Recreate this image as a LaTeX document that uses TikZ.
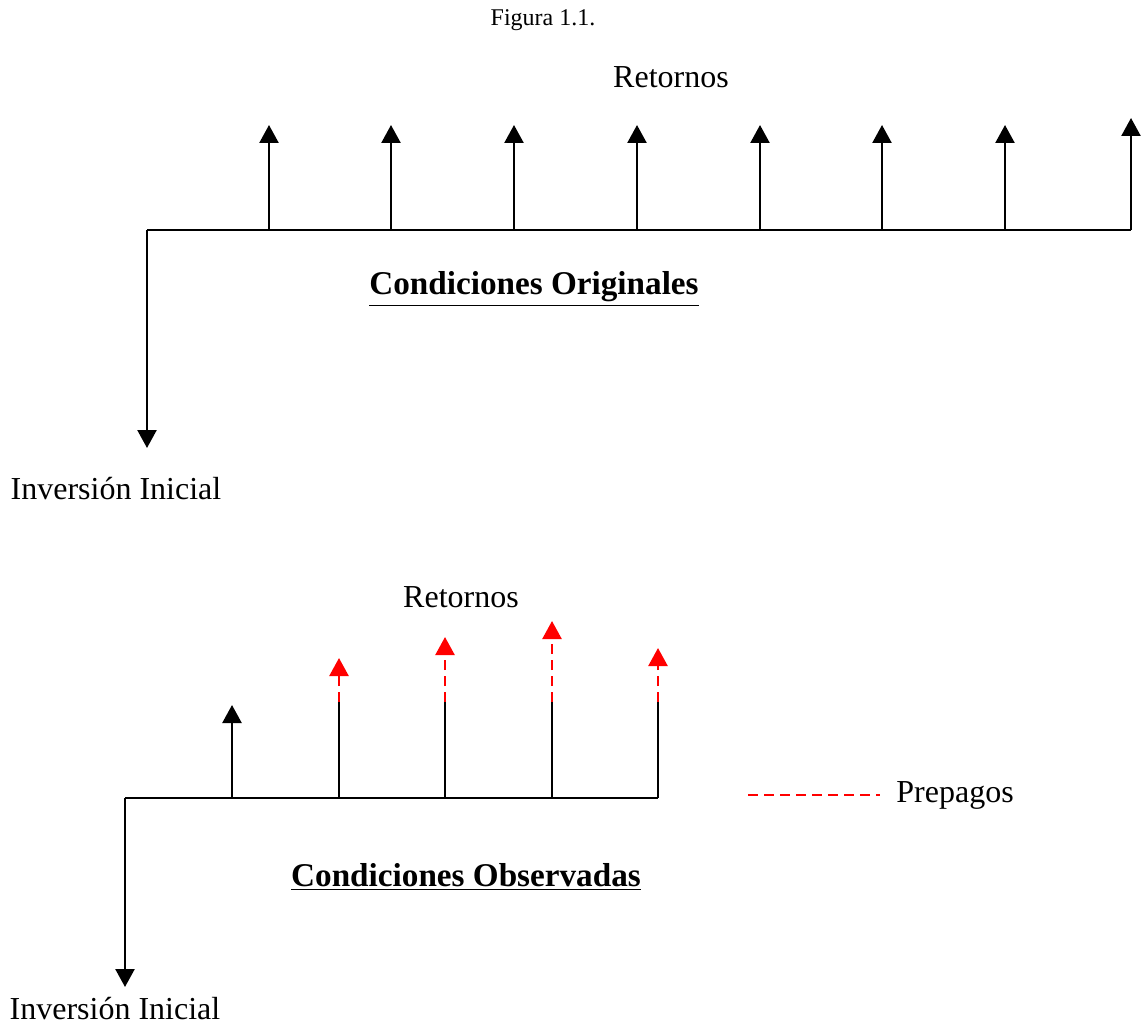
\documentclass[tikz,border=0pt]{standalone}
\usepackage{fontspec}
\setmainfont{Liberation Serif}
\usepackage{tikz}
\usetikzlibrary{arrows.meta}
\definecolor{prepago}{rgb}{1,0,0}
\tikzset{
	flujo/.style={black, line width=1.2pt, -{Triangle[width=9.5pt,length=9pt]}},
	eje/.style={black, line width=1.2pt},
	rojo/.style={prepago, line width=1.2pt, dash pattern=on 5pt off 3pt},
	etiqueta/.style={font=\fontsize{16}{19}\selectfont, inner sep=0pt}
}

\begin{document}
\begin{tikzpicture}[x=0.5pt,y=-0.5pt]
	\useasboundingbox (0,0) rectangle (1144,1026);
	\node[font=\fontsize{12}{14}\selectfont] (fig) at (543,20) {Figura 1.1.};

	% condiciones originales
	\coordinate (o0) at (147,230);
	\coordinate (oF) at (1131,230);
	\coordinate (oB) at (147,448);
	\draw[eje] (oB |- o0) -- (oF);
	\draw[flujo] (o0) -- (oB);
	\foreach \x/\t in {269/125,391/125,514/125,637/125,760/125,882/125,1005/125,1131/118}
		\draw[flujo] (\x,230) -- (\x,\t);
	\node[etiqueta] (ret1) at (671,77) {Retornos};
	\node[etiqueta, font=\fontsize{16.6}{19}\selectfont] (co) at (534,289) {\underline{\textbf{Condiciones Originales}}};
	\node[etiqueta] (inv1) at (116,489) {Inversión Inicial};

	% condiciones observadas
	\coordinate (b0) at (125,798);
	\coordinate (bF) at (658,798);
	\coordinate (bB) at (125,987);
	\draw[eje] (b0) -- (bF);
	\draw[flujo] (b0) -- (bB);
	\draw[flujo] (232,798) -- (232,705);
	\foreach \x/\t in {339/658,445/637,552/621,658/648}{
		\draw[eje] (\x,798) -- (\x,702);
		\draw[rojo, -{Triangle[width=9.5pt,length=9pt]}] (\x,702) -- (\x,\t);
	}
	\node[etiqueta] (ret2) at (461,597) {Retornos};
	\node[etiqueta, font=\fontsize{16.6}{19}\selectfont] (cob) at (466,877) {\underline{\textbf{Condiciones Observadas}}};
	\node[etiqueta] (inv2) at (115,1009) {Inversión Inicial};

	% leyenda
	\coordinate (l0) at (748,795);
	\node[etiqueta, anchor=west] (pre) at (896,795) {Prepagos};
	\draw[rojo] (l0) -- (880,795);
\end{tikzpicture}
\end{document}
